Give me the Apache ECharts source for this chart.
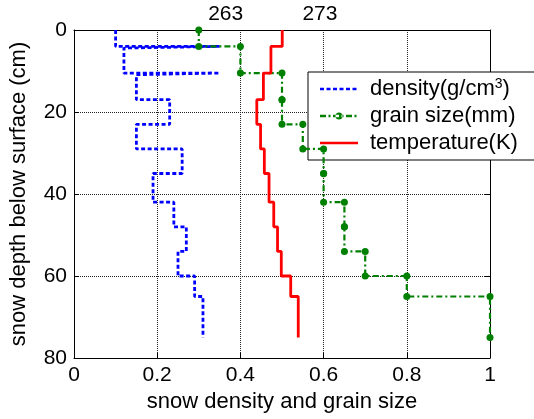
<!DOCTYPE html>
<html>
<head>
<meta charset="utf-8">
<script src="https://cdn.jsdelivr.net/npm/echarts@6/dist/echarts.min.js"></script>
<style>
  html, body { margin: 0; padding: 0; background: #fff; }
  #chart { width: 534px; height: 419px; }
</style>
</head>
<body>
<div id="chart"></div>
<script>
// layer boundaries (cm below surface)
const layerDepths = [0, 4, 10.5, 17, 23, 29, 35, 42, 48, 54, 60, 65, 75];
// one value per layer
const density = [0.10, 0.12, 0.15, 0.23, 0.15, 0.26, 0.19, 0.24, 0.27, 0.25, 0.29, 0.31];
const grainSize = [0.30, 0.40, 0.50, 0.50, 0.55, 0.60, 0.60, 0.65, 0.65, 0.70, 0.80, 1.00];
const temperature = [269.0, 267.8, 267.0, 266.3, 266.7, 267.1, 267.6, 268.1, 268.5, 268.9, 269.9, 270.7];
// thin ice crusts drawn as density spikes
const crustDepths = [4, 10.5];
const crustThickness = 0.4;
const crustDensity = 0.35;

const xTicks = [0, 0.2, 0.4, 0.6, 0.8, 1];
const tempTicks = [263, 273];

const FONT = "'Liberation Sans', Arial, sans-serif";

// build a step profile: each layer drawn from its top to its bottom
function stepProfile(values, spikes) {
  const pts = [];
  values.forEach((v, i) => {
    let top = layerDepths[i];
    const bottom = layerDepths[i + 1];
    if (spikes && spikes.depths.includes(top)) top += spikes.thickness;
    pts.push([v, top], [v, bottom]);
    if (spikes && spikes.depths.includes(bottom)) {
      pts.push([spikes.value, bottom], [spikes.value, bottom + spikes.thickness]);
    }
  });
  return pts;
}

// legend icons (38x8 box, tiny corner specks keep the box size)
const corners = 'M0,0h0.01v0.01h-0.01z M37.99,7.99h0.01v0.01h-0.01z ';
function dashes(list) {
  return list.map(d => 'M' + d[0] + ',2.7h' + (d[1] - d[0]) + 'v2.6h' + (d[0] - d[1]) + 'z').join(' ');
}
const iconDensity = 'path://' + corners + dashes([[0, 4], [6.5, 10.5], [13, 17], [19.5, 23.5], [26, 30], [32.5, 36.5]]);
const iconGrain = 'path://' + corners + dashes([[0, 6], [8.5, 10.5], [13, 19], [21.5, 23.5], [26, 32], [34.5, 36.5]])
  + ' M15.5,4a3.5,3.5 0 1,0 7,0a3.5,3.5 0 1,0 -7,0z';
const iconTemp = 'path://' + corners + dashes([[0, 38]]);

const chart = echarts.init(document.getElementById('chart'));

const option = {
  animation: false,
  backgroundColor: '#fff',
  textStyle: { fontFamily: FONT },
  grid: { left: 73, right: 44, top: 30, bottom: 61, containLabel: false },
  legend: {
    orient: 'vertical',
    left: 308,
    top: 72,
    padding: [5, 30, 6, 12],
    itemGap: 5,
    itemWidth: 38,
    itemHeight: 8,
    symbolKeepAspect: false,
    backgroundColor: '#fff',
    borderColor: '#000',
    borderWidth: 1,
    borderRadius: 0,
    textStyle: {
      fontSize: 22, color: '#000', fontFamily: FONT, padding: [0, 0, 0, 7],
      rich: {
        sup: { fontSize: 14, verticalAlign: 'top', padding: [0, 0, 10, 0], color: '#000', fontFamily: FONT }
      }
    },
    formatter: function (name) {
      return name === 'density' ? 'density(g/cm{sup|3})' : name;
    },
    data: [
      { name: 'density', icon: iconDensity },
      { name: 'grain size(mm)', icon: iconGrain },
      { name: 'temperature(K)', icon: iconTemp }
    ]
  },
  xAxis: [
    {
      type: 'value',
      position: 'bottom',
      min: 0,
      max: 1,
      interval: 0.2,
      name: 'snow density and grain size',
      nameLocation: 'middle',
      nameGap: 33,
      nameTextStyle: { fontSize: 22, color: '#000', fontFamily: FONT },
      axisLine: { show: true, onZero: false, lineStyle: { color: '#000', width: 1 } },
      axisTick: { show: true, inside: true, length: 5, lineStyle: { color: '#000' } },
      axisLabel: {
        fontSize: 21, color: '#000', margin: 7, fontFamily: FONT,
        customValues: xTicks
      },
      splitLine: { show: true, lineStyle: { type: 'dotted', color: '#222', width: 1 } }
    },
    {
      type: 'value',
      position: 'top',
      min: 246.9,
      max: 291.05,
      axisLine: { show: true, onZero: false, lineStyle: { color: '#000', width: 1 } },
      axisTick: { show: false },
      axisLabel: {
        fontSize: 21, color: '#000', margin: 5, fontFamily: FONT,
        customValues: tempTicks
      },
      splitLine: { show: false }
    }
  ],
  yAxis: [
    {
      type: 'value',
      inverse: true,
      min: 0,
      max: 80,
      interval: 20,
      name: 'snow depth below surface (cm)',
      nameLocation: 'middle',
      nameGap: 44,
      nameTextStyle: { fontSize: 22, color: '#000', fontFamily: FONT },
      axisLine: { show: true, onZero: false, lineStyle: { color: '#000', width: 1 } },
      axisTick: { show: true, inside: true, length: 5, lineStyle: { color: '#000' } },
      axisLabel: { fontSize: 21, color: '#000', margin: 7, fontFamily: FONT },
      splitLine: { show: true, lineStyle: { type: 'dotted', color: '#222', width: 1 } }
    },
    {
      type: 'value',
      position: 'right',
      inverse: true,
      min: 0,
      max: 80,
      interval: 20,
      axisLine: { show: true, onZero: false, lineStyle: { color: '#000', width: 1 } },
      axisTick: { show: true, inside: true, length: 5, lineStyle: { color: '#000' } },
      axisLabel: { show: false },
      splitLine: { show: false }
    }
  ],
  series: [
    {
      name: 'density',
      type: 'line',
      xAxisIndex: 0,
      yAxisIndex: 0,
      data: stepProfile(density, { depths: crustDepths, value: crustDensity, thickness: crustThickness }),
      showSymbol: false,
      symbol: 'none',
      color: '#0000ff',
      lineStyle: { color: '#0000ff', width: 2.8, type: [4, 2.5] },
      z: 3
    },
    {
      name: 'grain size(mm)',
      type: 'line',
      xAxisIndex: 0,
      yAxisIndex: 0,
      data: stepProfile(grainSize),
      symbol: 'circle',
      symbolSize: 7,
      color: '#008000',
      itemStyle: { color: '#008000' },
      lineStyle: { color: '#008000', width: 2.2, type: [6, 3, 2, 3] },
      z: 4
    },
    {
      name: 'temperature(K)',
      type: 'line',
      xAxisIndex: 1,
      yAxisIndex: 0,
      data: stepProfile(temperature),
      showSymbol: false,
      symbol: 'none',
      color: '#ff0000',
      lineStyle: { color: '#ff0000', width: 2.8, type: 'solid' },
      z: 5
    }
  ]
};

chart.setOption(option);
</script>
</body>
</html>
